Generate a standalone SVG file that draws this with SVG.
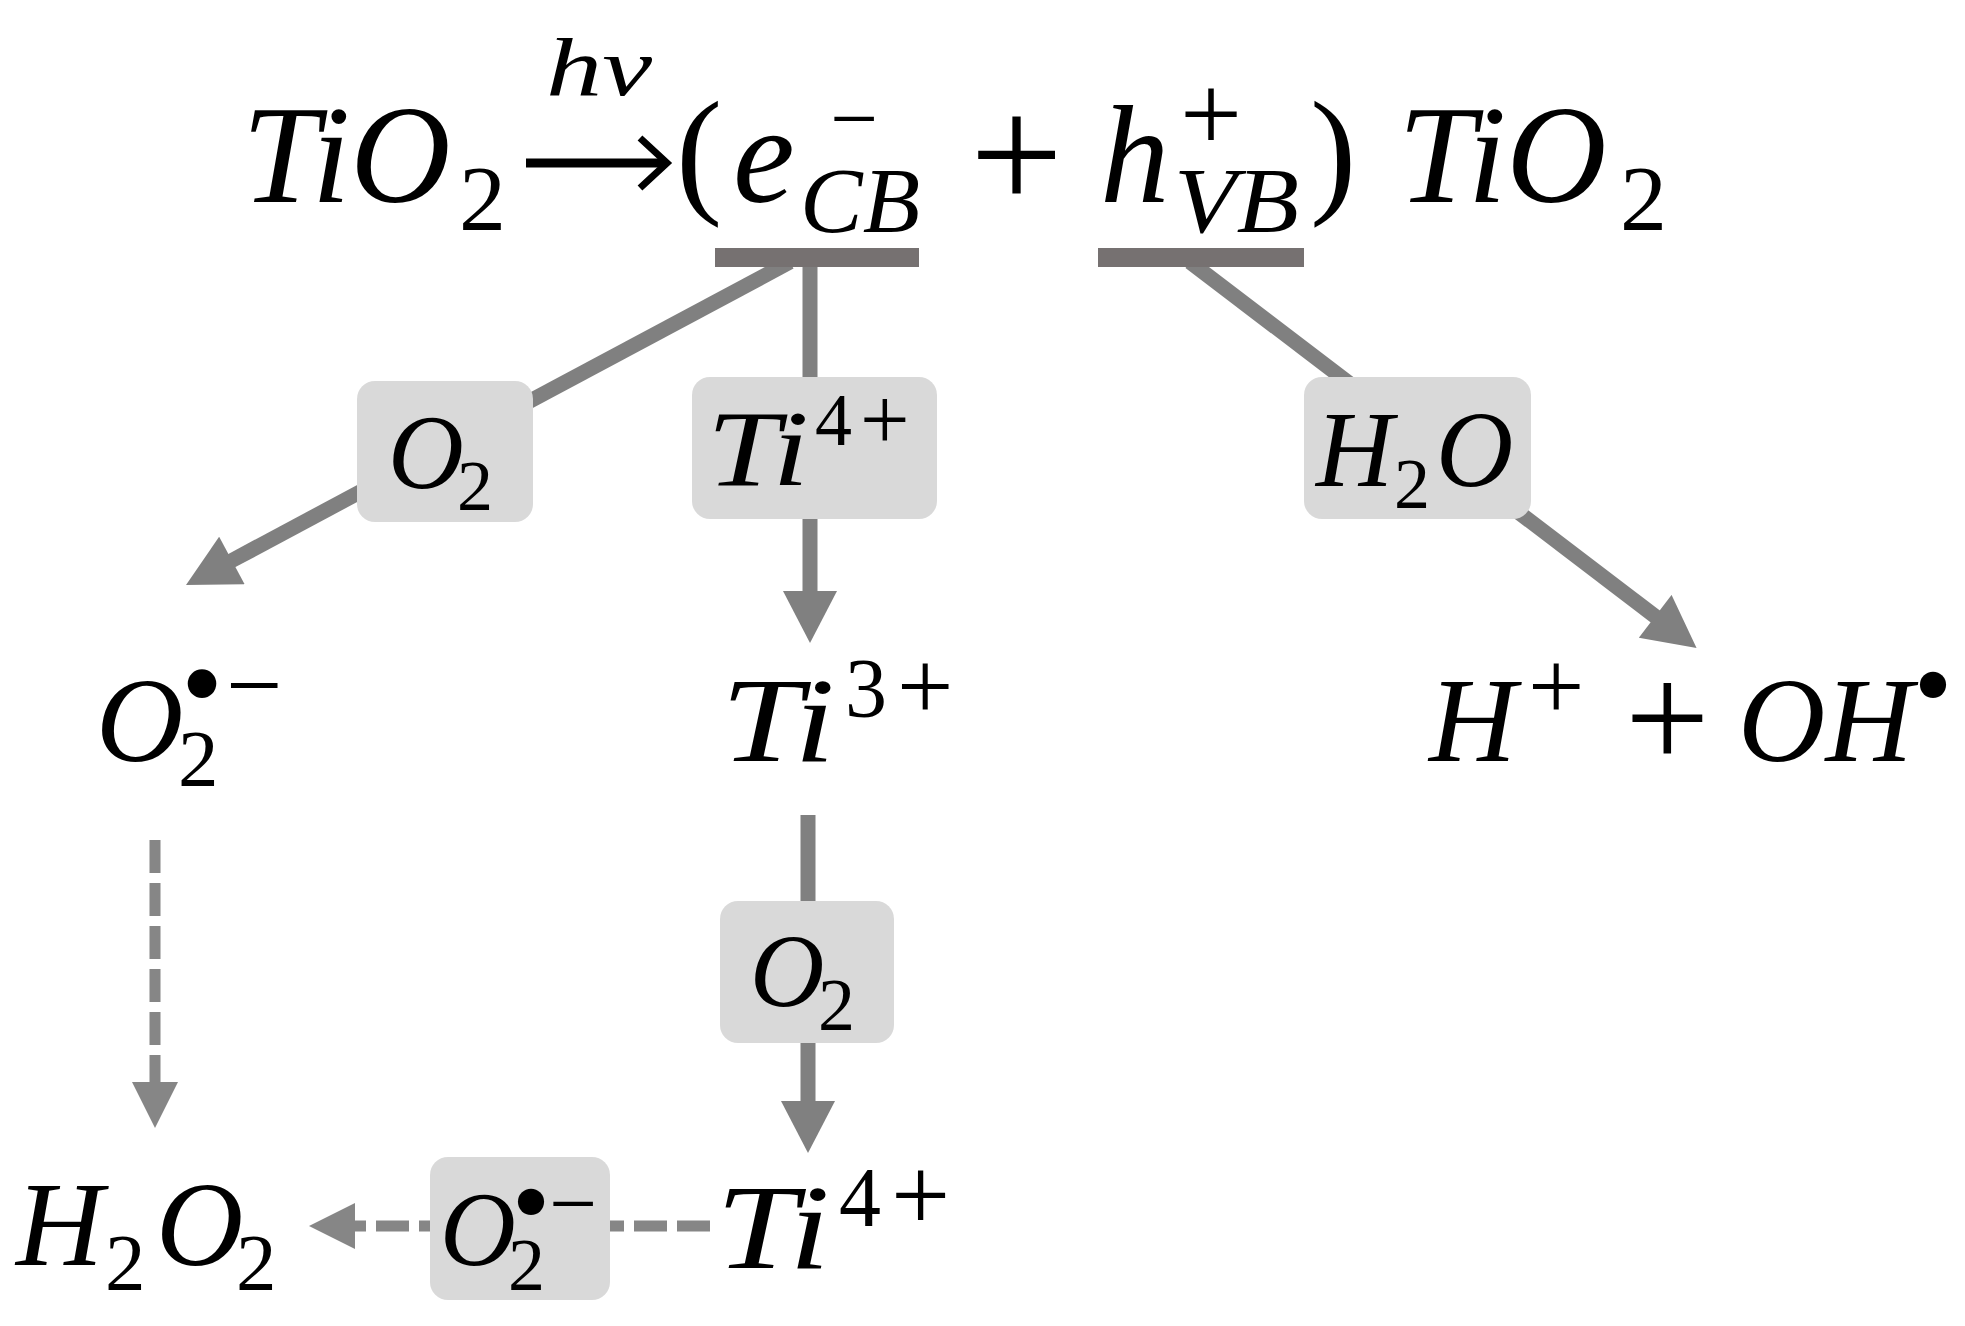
<svg xmlns="http://www.w3.org/2000/svg" width="1965" height="1326" viewBox="0 0 1965 1326">
<style>
.it{font-family:"Liberation Serif","DejaVu Serif",serif;font-style:italic;fill:#000}
.up{font-family:"Liberation Serif","DejaVu Serif",serif;font-style:normal;fill:#000}
.box{fill:#d9d9d9}
.bar{fill:#767171}
.conn{stroke:#808080;stroke-width:15;fill:none}
.dash{stroke:#868686;stroke-width:11;fill:none;stroke-dasharray:33 10}
</style>
<defs>
<marker id="ah" markerUnits="userSpaceOnUse" markerWidth="54" markerHeight="54" viewBox="0 0 52 54" refX="1" refY="27" orient="auto"><path d="M0,0 L52,27 L0,54 z" fill="#808080"/></marker>
<marker id="ahd" markerUnits="userSpaceOnUse" markerWidth="47" markerHeight="46" viewBox="0 0 46 46" refX="1" refY="23" orient="auto"><path d="M0,0 L46,23 L0,46 z" fill="#868686"/></marker>
</defs>
<rect width="1965" height="1326" fill="#fff"/>
<g id="connectors">
<line class="conn" x1="790" y1="262" x2="231" y2="561" marker-end="url(#ah)"/>
<line class="conn" x1="810" y1="258" x2="810" y2="592" marker-end="url(#ah)"/>
<line class="conn" x1="1190" y1="262" x2="1656" y2="617" marker-end="url(#ah)"/>
<line class="conn" x1="808" y1="815" x2="808" y2="1102" marker-end="url(#ah)"/>
<line class="dash" x1="155" y1="840" x2="155" y2="1083" marker-end="url(#ahd)"/>
<line class="dash" x1="710" y1="1226" x2="354" y2="1226" marker-end="url(#ahd)"/>
</g>
<g id="equation">
<text class="it" x="242" y="202" font-size="139">TiO</text>
<text class="up" x="459" y="230" font-size="94">2</text>
<line x1="526" y1="163" x2="664" y2="163" stroke="#000" stroke-width="9"/>
<polyline points="640,138 667,163 640,188" fill="none" stroke="#000" stroke-width="7"/>
<text class="it" x="546" y="95" font-size="82" textLength="106" lengthAdjust="spacingAndGlyphs">hν</text>
<text class="up" x="676" y="198" font-size="139">(</text>
<text class="it" x="733" y="202" font-size="139">e</text>
<text class="up" x="830" y="147" font-size="85">−</text>
<text class="it" x="800" y="232" font-size="94" textLength="120" lengthAdjust="spacingAndGlyphs">CB</text>
<text class="up" x="970" y="210" font-size="165">+</text>
<text class="it" x="1100" y="202" font-size="139">h</text>
<text class="up" x="1180" y="151" font-size="110">+</text>
<text class="it" x="1174" y="232" font-size="94" textLength="125" lengthAdjust="spacingAndGlyphs">VB</text>
<text class="up" x="1310" y="198" font-size="139">)</text>
<text class="it" x="1398" y="202" font-size="139">TiO</text>
<text class="up" x="1620" y="230" font-size="94">2</text>
</g>
<g id="bar-ecb"><rect class="bar" x="715" y="248" width="204" height="19"/></g>
<g id="bar-hvb"><rect class="bar" x="1098" y="248" width="206" height="19"/></g>
<g id="node-o2-a">
<rect class="box" x="357" y="381" width="176" height="141" rx="18"/>
<text class="it" x="388" y="488" font-size="105">O</text>
<text class="up" x="457" y="510" font-size="72">2</text>
</g>
<g id="node-ti4-a">
<rect class="box" x="692" y="377" width="245" height="142" rx="18"/>
<text class="it" x="707" y="485" font-size="107" textLength="102" lengthAdjust="spacingAndGlyphs">Ti</text>
<text class="up" x="815" y="445" font-size="74">4</text>
<text class="up" x="860" y="449" font-size="88">+</text>
</g>
<g id="node-h2o">
<rect class="box" x="1304" y="377" width="227" height="142" rx="18"/>
<text class="it" x="1316" y="486" font-size="107">H</text>
<text class="up" x="1394" y="508" font-size="72">2</text>
<text class="it" x="1436" y="486" font-size="107">O</text>
</g>
<g id="node-o2rad">
<text class="it" x="96" y="761" font-size="121">O</text>
<text class="up" x="178" y="786" font-size="81">2</text>
<text class="up" x="202" y="724" font-size="120" text-anchor="middle">•</text>
<text class="up" x="226" y="719" font-size="100">−</text>
</g>
<g id="node-ti3">
<text class="it" x="721" y="761" font-size="121" textLength="114" lengthAdjust="spacingAndGlyphs">Ti</text>
<text class="up" x="845" y="717" font-size="84">3</text>
<text class="up" x="897" y="720" font-size="100">+</text>
</g>
<g id="node-h-oh">
<text class="it" x="1429" y="761" font-size="121">H</text>
<text class="up" x="1528" y="720" font-size="100">+</text>
<text class="up" x="1625" y="768" font-size="150">+</text>
<text class="it" x="1738" y="761" font-size="121">OH</text>
<text class="up" x="1933" y="721" font-size="110" text-anchor="middle">•</text>
</g>
<g id="node-o2-b">
<rect class="box" x="720" y="901" width="174" height="142" rx="18"/>
<text class="it" x="750" y="1006" font-size="103">O</text>
<text class="up" x="818" y="1030" font-size="74">2</text>
</g>
<g id="node-h2o2">
<text class="it" x="16" y="1265" font-size="121">H</text>
<text class="up" x="105" y="1290" font-size="81">2</text>
<text class="it" x="156" y="1265" font-size="121">O</text>
<text class="up" x="236" y="1290" font-size="81">2</text>
</g>
<g id="node-o2rad-b">
<rect class="box" x="430" y="1157" width="180" height="143" rx="18"/>
<text class="it" x="440" y="1265" font-size="105">O</text>
<text class="up" x="508" y="1290" font-size="74">2</text>
<text class="up" x="531" y="1238" font-size="110" text-anchor="middle">•</text>
<text class="up" x="549" y="1232" font-size="85">−</text>
</g>
<g id="node-ti4-b">
<text class="it" x="716" y="1268" font-size="121" textLength="114" lengthAdjust="spacingAndGlyphs">Ti</text>
<text class="up" x="839" y="1226" font-size="84">4</text>
<text class="up" x="891" y="1231" font-size="105">+</text>
</g>
</svg>
